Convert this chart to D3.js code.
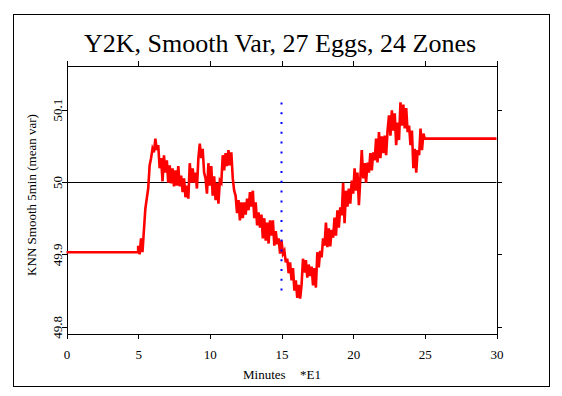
<!DOCTYPE html>
<html>
<head>
<meta charset="utf-8">
<script src="https://cdn.jsdelivr.net/npm/d3@7"></script>
<style>
body{margin:0;background:#fff;}
text{font-family:"Liberation Serif","Times New Roman",serif;fill:#000;}
</style>
</head>
<body>
<div id="chart"></div>
<script>
// chart data
var title = "Y2K, Smooth Var, 27 Eggs, 24 Zones";
var xLabel = "Minutes";
var xUnit = "*E1";
var yLabel = "KNN Smooth 5min (mean var)";
var xTicks = [0, 5, 10, 15, 20, 25, 30];
var yTicks = [49.8, 49.9, 50, 50.1];
var refValue = 50;
var startValue = 49.903;   // flat before the samples
var endValue = 50.060;     // flat after the samples
var sampleStart = 5.0;     // *E1 minutes
var sampleStep = 0.1;
var smoothVar = [
  49.912,49.900,49.922,49.903,49.933,49.963,49.977,49.991,50.023,50.033,
  50.046,50.041,50.060,50.044,50.051,50.019,50.033,50.001,50.037,50.013,
  50.030,49.999,50.023,49.998,50.019,49.994,50.016,49.995,50.022,49.994,
  50.009,49.986,50.005,49.979,49.995,49.977,50.026,49.999,50.019,49.999,
  50.013,49.991,50.033,50.053,50.033,50.046,50.013,50.005,49.984,50.026,
  49.995,50.022,49.981,50.008,49.975,49.999,49.970,50.002,49.999,50.037,
  50.016,50.040,50.022,50.044,50.023,50.041,50.005,49.988,49.981,49.957,
  49.975,49.947,49.972,49.950,49.972,49.955,49.977,49.961,49.986,49.966,
  49.988,49.950,49.972,49.940,49.958,49.937,49.955,49.922,49.950,49.919,
  49.944,49.915,49.947,49.926,49.947,49.912,49.932,49.914,49.922,49.901,
  49.919,49.901,49.905,49.889,49.894,49.874,49.889,49.864,49.881,49.850,
  49.864,49.840,49.858,49.839,49.858,49.894,49.875,49.892,49.868,49.886,
  49.870,49.883,49.857,49.881,49.854,49.903,49.882,49.905,49.896,49.922,
  49.912,49.944,49.910,49.936,49.911,49.934,49.923,49.951,49.926,49.961,
  49.937,49.965,49.954,49.999,49.943,49.988,49.966,49.991,49.970,50.002,
  49.984,50.019,49.988,50.013,49.968,50.005,50.044,50.005,50.026,49.999,
  50.027,50.013,50.040,50.016,50.041,50.030,50.060,50.027,50.069,50.033,
  50.063,50.040,50.064,50.037,50.071,50.092,50.064,50.099,50.071,50.095,
  50.051,50.082,50.058,50.110,50.078,50.107,50.074,50.102,50.069,50.078,
  50.051,50.071,50.019,50.046,50.013,50.044,50.037,50.074,50.044,50.067,
  50.060
];
var eventX = 15;
var eventRange = [49.839, 50.110];

function drawChart(){
  var W = 562, H = 396;
  var svg = d3.select("#chart").append("svg")
      .attr("width", W)
      .attr("height", H);

  // outer frame
  svg.append("rect")
      .attr("x", 13.5).attr("y", 14.5)
      .attr("width", 536).attr("height", 372)
      .attr("fill", "none").attr("stroke", "#000")
      .attr("shape-rendering", "crispEdges");

  var x = d3.scaleLinear().domain([0, 30]).range([66.5, 496.5]);
  var y = d3.scaleLinear().domain([49.7907, 50.161]).range([333.5, 65.5]);

  //build the series from the arrays
  var series = [[0, startValue], [sampleStart, startValue]];
  smoothVar.forEach(function(v, i){
    series.push([sampleStart + i*sampleStep, v]);
  });
  series.push([30, endValue]);

  var fmt = function(d){ return d3.format("")(d); };

  // axes
  var gB = svg.append("g").attr("transform", "translate(0," + y.range()[0] + ")")
      .call(d3.axisBottom(x).tickValues(xTicks).tickSize(5).tickSizeOuter(0).tickPadding(11));
  var gT = svg.append("g").attr("transform", "translate(0," + y.range()[1] + ")")
      .call(d3.axisTop(x).tickValues(xTicks).tickSize(5).tickSizeOuter(0).tickFormat(""));
  var gL = svg.append("g").attr("transform", "translate(" + x.range()[0] + ",0)")
      .call(d3.axisLeft(y).tickValues(yTicks).tickSize(5).tickSizeOuter(0).tickFormat(fmt));
  var gR = svg.append("g").attr("transform", "translate(" + x.range()[1] + ",0)")
      .call(d3.axisRight(y).tickValues(yTicks).tickSize(5).tickSizeOuter(0).tickFormat(""));

  [gB, gT, gL, gR].forEach(function(g){
    g.selectAll("path, line").attr("stroke", "#000").attr("shape-rendering", "crispEdges");
    g.selectAll("text").style("font-size", "13px").attr("fill", "#000");
  });
  // y labels run upward
  gL.selectAll("text")
      .attr("x", null).attr("dy", null)
      .attr("text-anchor", "middle")
      .attr("transform", "translate(-4.5,0) rotate(-90)");

  // reference line at 50
  svg.append("line")
      .attr("x1", x.range()[0]).attr("x2", x.range()[1])
      .attr("y1", Math.round(y(refValue)) + 0.5).attr("y2", Math.round(y(refValue)) + 0.5)
      .attr("stroke", "#000").attr("stroke-width", 1);

  // the data line
  var line = d3.line()
      .x(function(d){ return x(d[0]); })
      .y(function(d){ return y(d[1]); });
  svg.append("path")
      .datum(series)
      .attr("d", line)
      .attr("fill", "none")
      .attr("stroke", "#ff0000")
      .attr("stroke-width", 2.6)
      .attr("stroke-linejoin", "miter");

  // dotted marker at the event time
  svg.append("line")
      .attr("x1", x(eventX)).attr("x2", x(eventX))
      .attr("y1", y(eventRange[1])).attr("y2", y(eventRange[0]))
      .attr("stroke", "#0000ff")
      .attr("stroke-width", 2)
      .attr("stroke-dasharray", "2,7.8");

  // titles
  svg.append("text")
      .attr("x", 280).attr("y", 52)
      .attr("text-anchor", "middle")
      .style("font-size", "26px")
      .text(title);
  svg.append("text")
      .attr("x", 243).attr("y", 379)
      .style("font-size", "13px")
      .text(xLabel);
  svg.append("text")
      .attr("x", 300).attr("y", 379)
      .style("font-size", "13px")
      .text(xUnit);
  svg.append("text")
      .attr("transform", "translate(36,195) rotate(-90)")
      .attr("text-anchor", "middle")
      .style("font-size", "13px")
      .text(yLabel);
}

drawChart();
</script>
</body>
</html>
